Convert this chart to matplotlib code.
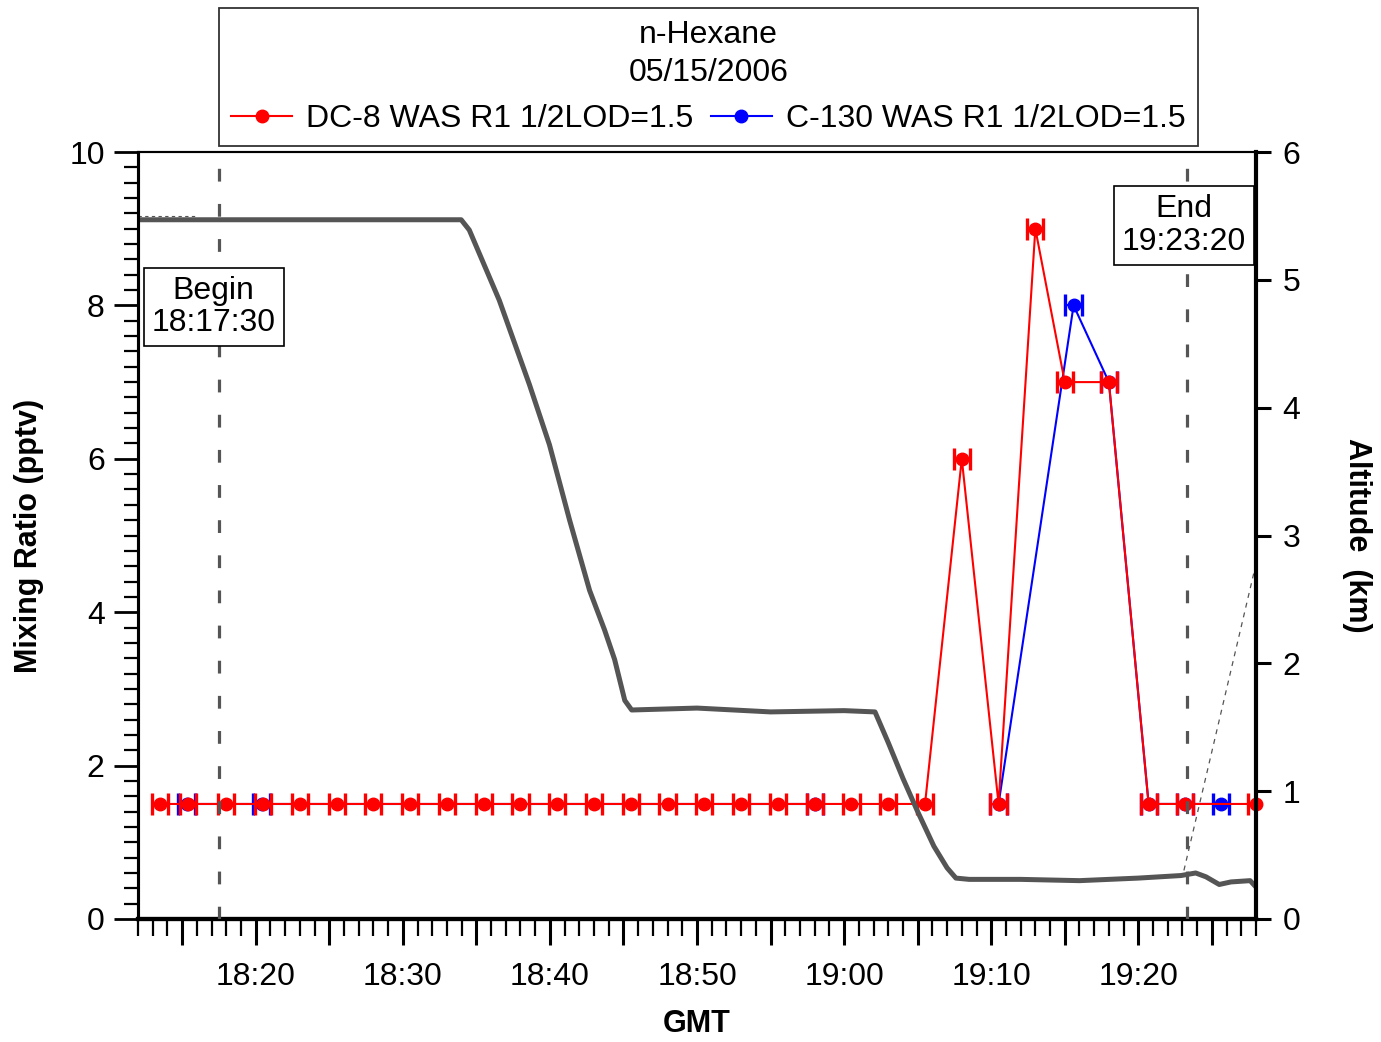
import numpy as np
import matplotlib
matplotlib.use("Agg")
import matplotlib.pyplot as plt
from matplotlib.ticker import MultipleLocator, FuncFormatter

plt.rcParams['font.family'] = ['Liberation Sans', 'DejaVu Sans']

# ---------------- data (time in minutes after 18:00 GMT) ----------------
dc8_time = [13.5, 15.4, 18.0, 20.5, 23.0, 25.5, 28.0, 30.5, 33.0, 35.5, 38.0,
            40.5, 43.0, 45.5, 48.0, 50.5, 53.0, 55.5, 58.0, 60.5, 63.0, 65.5,
            68.0, 70.5, 73.0, 75.0, 78.0, 80.7, 83.2, 88.0]
dc8_value = [1.5] * 22 + [6.0, 1.5, 9.0, 7.0, 7.0, 1.5, 1.5, 1.5]

c130_time = [15.3, 20.4, 58.0, 70.5, 75.6, 78.0, 80.7, 83.2, 85.6]
c130_value = [1.5, 1.5, 1.5, 1.5, 8.0, 7.0, 1.5, 1.5, 1.5]
c130_leg = [0, 0, 0, 1, 1, 1, 1, 1, 1]

sample_halfwidth = 0.55  # minutes

alt_time = [12.0, 33.97, 34.52, 36.56, 38.61, 39.97, 41.34, 42.70, 43.72,
            44.40, 45.09, 45.56, 50.0, 55.0, 60.0, 62.1, 63.0, 64.0, 65.0,
            66.1, 67.0, 67.6, 68.5, 72.0, 76.0, 80.0, 82.9, 83.9, 84.6, 85.5,
            86.3, 87.6, 88.0]
alt_km = [5.47, 5.47, 5.39, 4.84, 4.18, 3.71, 3.12, 2.57, 2.26,
          2.03, 1.71, 1.635, 1.65, 1.62, 1.63, 1.62, 1.38, 1.10, 0.84,
          0.57, 0.40, 0.32, 0.31, 0.31, 0.30, 0.32, 0.34, 0.36, 0.33, 0.27,
          0.29, 0.30, 0.25]

c130_alt_time_a = [12.0, 16.0]
c130_alt_km_a = [5.50, 5.50]
c130_alt_time_b = [83.1, 87.9]
c130_alt_km_b = [0.38, 2.73]

begin_time = 17.5   # 18:17:30
end_time = 83.333   # 19:23:20
begin_label = "Begin\n18:17:30"
end_label = "End\n19:23:20"
begin_label_pos = (17.14, 7.98)
end_label_pos = (83.1, 9.04)

title_text = "n-Hexane\n05/15/2006"
dc8_label = "DC-8 WAS R1 1/2LOD=1.5"
c130_label = "C-130 WAS R1 1/2LOD=1.5"

# ---------------- figure ----------------
W, H = 1381, 1042
fig = plt.figure(figsize=(W / 100, H / 100), dpi=100)
ax = fig.add_axes([138 / W, 1 - 919 / H, (1256 - 138) / W, (919 - 152) / H])
ax2 = ax.twinx()

FS = 23
RED = '#ff0000'
BLUE = '#0000ff'
GRAY = '#555555'

# C-130 (blue) underneath
ct = np.array(c130_time)
cv = np.array(c130_value)
cl = np.array(c130_leg)
ax.errorbar(ct, cv, xerr=sample_halfwidth, fmt='none', ecolor=BLUE,
            elinewidth=1.5, capsize=8, capthick=2.4, zorder=2)
h_blue = None
for leg in np.unique(cl):
    m = cl == leg
    ln, = ax.plot(ct[m], cv[m], '-o', color=BLUE, lw=1.5, ms=9, zorder=3,
                  clip_on=False)
    h_blue = ln

# DC-8 (red) on top
ax.errorbar(dc8_time, dc8_value, xerr=sample_halfwidth, fmt='none', ecolor=RED,
            elinewidth=1.5, capsize=8, capthick=2.4, zorder=4)
h_red, = ax.plot(dc8_time, dc8_value, '-o', color=RED, lw=1.5, ms=9, zorder=5,
                 clip_on=False)

# altitude
ax2.plot(alt_time, alt_km, color=GRAY, lw=3.6, zorder=2, solid_joinstyle='round')
ax2.plot(c130_alt_time_a, c130_alt_km_a, color=GRAY, lw=0.8, ls=(0, (3, 3)), zorder=1)
ax2.plot(c130_alt_time_b, c130_alt_km_b, color=GRAY, lw=0.9, ls=(0, (4, 4)), zorder=1)

# begin / end markers
for t in (begin_time, end_time):
    ax2.axvline(t, color=GRAY, lw=2.3, ls=(0, (4, 7)), zorder=3)

box = dict(boxstyle='square,pad=0.25', fc='white', ec='black', lw=1.2)
ax2.text(*begin_label_pos, begin_label, transform=ax.transData, ha='center',
         va='center', fontsize=FS, linespacing=1.1, bbox=box, zorder=10)
ax2.text(*end_label_pos, end_label, transform=ax.transData, ha='center',
         va='center', fontsize=FS, linespacing=1.1, bbox=box, zorder=10)

# axes limits / ticks
ax.set_xlim(12, 88)
ax.set_ylim(0, 10)
ax2.set_ylim(0, 6)

def tfmt(v, pos):
    v = int(round(v))
    if v % 10:
        return ''
    return f"{18 + v // 60}:{v % 60:02d}"

ax.xaxis.set_major_locator(MultipleLocator(5))
ax.xaxis.set_minor_locator(MultipleLocator(1))
ax.xaxis.set_major_formatter(FuncFormatter(tfmt))
ax.yaxis.set_major_locator(MultipleLocator(2))
ax.yaxis.set_minor_locator(MultipleLocator(0.2))
ax2.yaxis.set_major_locator(MultipleLocator(1))

ax.tick_params(axis='x', which='major', direction='out', length=19, width=2.2,
               labelsize=FS, pad=12)
ax.tick_params(axis='x', which='minor', direction='out', length=12, width=1.6)
ax.tick_params(axis='y', which='major', direction='out', length=17, width=2.0,
               labelsize=FS, pad=7)
ax.tick_params(axis='y', which='minor', direction='out', length=10, width=1.6)
ax2.tick_params(axis='y', which='major', direction='out', length=11, width=2.2,
                labelsize=FS, pad=8)

for s, lw in (('left', 2.2), ('bottom', 3.0), ('top', 1.5)):
    ax.spines[s].set_linewidth(lw)
ax2.spines['right'].set_linewidth(3.0)
ax2.spines['top'].set_linewidth(1.5)
ax2.spines['bottom'].set_linewidth(3.0)
ax2.spines['left'].set_linewidth(2.2)

ax.set_xlabel("GMT", fontsize=22, fontweight='bold', labelpad=12)
ax.set_ylabel("Mixing Ratio (pptv)", fontsize=22, fontweight='bold', labelpad=18)
ax2.set_ylabel("Altitude  (km)", fontsize=22, fontweight='bold', rotation=-90,
               labelpad=52)

leg = fig.legend([h_red, h_blue], [dc8_label, c130_label], title=title_text,
                 loc='upper center', bbox_to_anchor=(708.5 / W, 1 - 8 / H),
                 ncol=2, frameon=True, fancybox=False, edgecolor='black',
                 fontsize=FS, title_fontsize=FS, handlelength=1.9,
                 handletextpad=0.45, columnspacing=0.55, borderpad=0.38,
                 borderaxespad=0)
leg.get_frame().set_linewidth(1.3)
leg.get_title().set_multialignment('center')
leg.get_title().set_linespacing(1.35)

fig.savefig("out.png", dpi=100)
